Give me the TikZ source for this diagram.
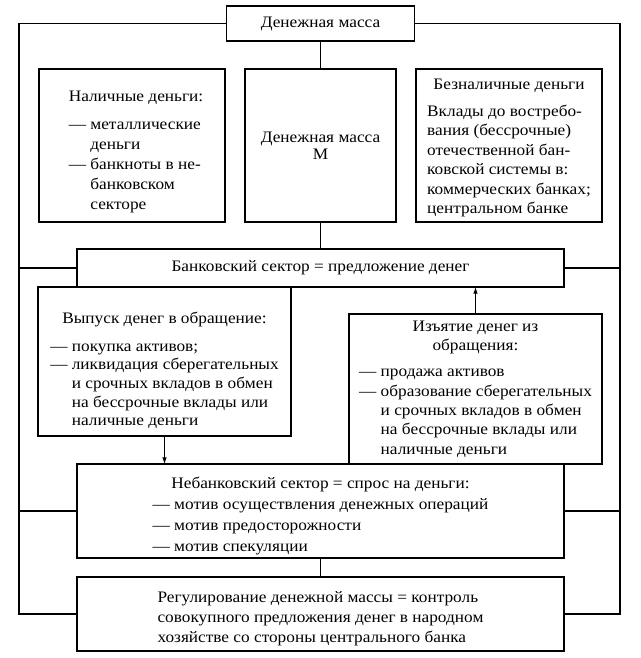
\documentclass[tikz,border=0pt]{standalone}
\usepackage{fontspec}
\setmainfont{Liberation Serif}[FakeStretch=1.08]
\usetikzlibrary{arrows.meta}

% centred title line and indent for continuation lines of a dash item
\newcommand{\boxtitle}[1]{\multicolumn{1}{@{}c@{}}{#1}}
\newcommand{\indline}{\hphantom{—\ }}
% lower the text inside a box without changing the box
\newcommand{\shiftdown}[2]{\raisebox{-#1}[\height][\depth]{#2}}

\tikzset{
  cell/.style={draw, line width=0.8pt, inner sep=0pt, outer sep=0pt,
    font=\fontsize{12}{15}\selectfont},
  link/.style={line width=0.8pt},
}

\begin{document}
\begin{tikzpicture}[x=0.75pt, y=-0.75pt]
    \useasboundingbox (0,0) rectangle (641,658);
    % top
    \node[cell, minimum width=141pt, minimum height=26.25pt] (top) at (320.5,23.5) {Денежная масса};
    % three boxes
    \node[cell, minimum width=139.5pt, minimum height=114.75pt] (cash) at (132,145.5)
        {\hspace{6pt}\shiftdown{4.5pt}{\begin{tabular}{@{}l@{}}
         \boxtitle{Наличные деньги:}\\[6pt]
         — металлические\\ \indline деньги\\
         — банкноты в не-\\ \indline банковском\\ \indline секторе
         \end{tabular}}};
    \node[cell, minimum width=113.25pt, minimum height=114.75pt, align=center] (mass) at (320.5,145.5)
        {Денежная масса\\[-2pt]М};
    \node[cell, minimum width=139.5pt, minimum height=114.75pt,
        font=\fontsize{12}{14.6}\selectfont] (noncash) at (509,145.5)
        {\shiftdown{1.5pt}{\begin{tabular}{@{}l@{}}
         \boxtitle{Безналичные деньги}\\[6pt]
         Вклады до востребо-\\вания (бессрочные)\\отечественной бан-\\ковской системы в:\\коммерческих банках;\\центральном банке
         \end{tabular}}};
    % bank sector
    \node[cell, minimum width=365.25pt, minimum height=28.5pt] (bank) at (320.5,268) {Банковский сектор = предложение денег};
    \node[cell, minimum width=189.75pt, minimum height=111.75pt,
        font=\fontsize{12}{14}\selectfont] (issue) at (164.5,361.5)
        {\shiftdown{7pt}{\begin{tabular}{@{}l@{}}
         \boxtitle{Выпуск денег в обращение:}\\[7pt]
         — покупка активов;\\
         — ликвидация сберегательных\\ \indline и срочных вкладов в обмен\\
         \indline на бессрочные вклады или\\ \indline наличные деньги
         \end{tabular}}};
    \node[cell, minimum width=189.75pt, minimum height=112.5pt,
        font=\fontsize{12}{14.5}\selectfont] (withdraw) at (475.5,389)
        {\begin{tabular}{@{}l@{}}
         \boxtitle{Изъятие денег из}\\ \boxtitle{обращения:}\\[5pt]
         — продажа активов\\
         — образование сберегательных\\ \indline и срочных вкладов в обмен\\
         \indline на бессрочные вклады или\\ \indline наличные деньги
         \end{tabular}};
    % non-bank sector
    \node[cell, minimum width=365.25pt, minimum height=70.5pt,
        font=\fontsize{12}{15.6}\selectfont] (nonbank) at (320.5,511)
        {\shiftdown{3.5pt}{\begin{tabular}{@{}l@{}}
         \boxtitle{Небанковский сектор = спрос на деньги:}\\
         — мотив осуществления денежных операций\\
         — мотив предосторожности\\
         — мотив спекуляции
         \end{tabular}}};
    \node[cell, minimum width=365.25pt, minimum height=55.5pt] (regul) at (320.5,614)
        {\shiftdown{3pt}{\begin{tabular}{@{}l@{}}
         Регулирование денежной массы = контроль\\
         совокупного предложения денег в народном\\
         хозяйстве со стороны центрального банка
         \end{tabular}}};

    % connectors
    \draw[link] (top.south) -- (mass.north);
    \draw[link] (mass.south) -- (bank.north);
    \draw[link] (nonbank.south) -- (regul.north);
    \draw[link, -{Latex[length=5pt,width=3.5pt]}] (issue.south) -- (issue.south |- nonbank.north);
    \draw[link, -{Latex[length=5pt,width=3.5pt]}] (withdraw.north) -- (withdraw.north |- bank.south);

    % outer frame lines
    \coordinate (lx) at (19,0);
    \coordinate (rx) at (620,0);
    \draw[link] (top.west) -| (lx |- regul) -- (regul.west);
    \draw[link] (top.east) -| (rx |- regul) -- (regul.east);
    \draw[link] (lx |- bank) -- (bank.west);
    \draw[link] (rx |- bank) -- (bank.east);
    \draw[link] (lx |- nonbank) -- (nonbank.west);
    \draw[link] (rx |- nonbank) -- (nonbank.east);
\end{tikzpicture}
\end{document}
